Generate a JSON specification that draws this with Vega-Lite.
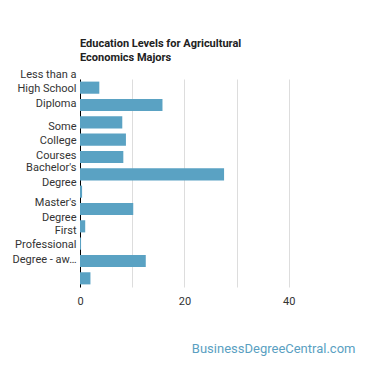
{
  "$schema": "https://vega.github.io/schema/vega-lite/v6.json",
  "autosize": {"type": "none"},
  "padding": {"left": 80, "top": 79, "right": 29, "bottom": 83},
  "width": 261,
  "height": 208,
  "background": "white",
  "title": {
    "text": ["Education Levels for Agricultural", "Economics Majors"],
    "anchor": "start",
    "frame": "group",
    "fontSize": 11,
    "fontWeight": "bold",
    "color": "#222",
    "font": "Roboto",
    "lineHeight": 14,
    "offset": 5
  },
  "data": {
    "values": [
      {"level": "Less than a High School Diploma", "percent": 3.7},
      {"level": "High School Diploma", "percent": 15.8},
      {"level": "Post-Secondary Certificate", "percent": 8.1},
      {"level": "Some College Courses", "percent": 8.8},
      {"level": "Associate's Degree", "percent": 8.3},
      {"level": "Bachelor's Degree", "percent": 27.6},
      {"level": "Post-Baccalaureate Certificate", "percent": 0.4},
      {"level": "Master's Degree", "percent": 10.2},
      {"level": "Post-Master's Certificate", "percent": 1.0},
      {"level": "First Professional Degree - awarded for completion of a program", "percent": 0.2},
      {"level": "Doctoral Degree", "percent": 12.6},
      {"level": "Post-Doctoral Training", "percent": 2.0}
    ]
  },
  "mark": {"type": "bar", "color": "#5aa2c3"},
  "encoding": {
    "y": {
      "field": "level",
      "type": "nominal",
      "sort": null,
      "scale": {"paddingInner": 0.3, "paddingOuter": 0.15},
      "axis": {
        "title": null,
        "ticks": false,
        "domainColor": "#000",
        "domainWidth": 1,
        "labelFont": "Roboto",
        "labelFontSize": 11,
        "labelColor": "#333",
        "labelLineHeight": 14.5,
        "labelPadding": 4,
        "labelLimit": 66,
        "labelOverlap": false,
        "labelOffset": {
          "condition": {"test": "datum.value == \"Bachelor's Degree\" || datum.value == \"Master's Degree\"", "value": -6},
          "value": -13
        },
        "labelExpr": "datum.value == 'Less than a High School Diploma' ? ['Less than a', 'High School', 'Diploma'] : datum.value == 'Some College Courses' ? ['Some', 'College', 'Courses'] : datum.value == \"Bachelor's Degree\" ? [\"Bachelor's\", 'Degree'] : datum.value == \"Master's Degree\" ? [\"Master's\", 'Degree'] : datum.value == 'First Professional Degree - awarded for completion of a program' ? ['First', 'Professional', 'Degree - awarded for completion'] : ''"
      }
    },
    "x": {
      "field": "percent",
      "type": "quantitative",
      "scale": {"domain": [0, 50], "nice": false},
      "axis": {
        "values": [0, 10, 20, 30, 40],
        "labelExpr": "datum.value % 20 == 0 ? datum.label : ''",
        "labelFlush": false,
        "domain": false,
        "ticks": false,
        "gridColor": "#ddd",
        "labelFont": "Roboto",
        "labelFontSize": 11,
        "labelColor": "#333",
        "labelPadding": 8,
        "title": "BusinessDegreeCentral.com",
        "titleFont": "Roboto",
        "titleFontSize": 13,
        "titleFontWeight": "normal",
        "titleColor": "#5a9fc2",
        "titleAlign": "right",
        "titleAnchor": "end",
        "titleX": 275,
        "titleY": 55
      }
    }
  },
  "config": {"view": {"stroke": null}}
}
